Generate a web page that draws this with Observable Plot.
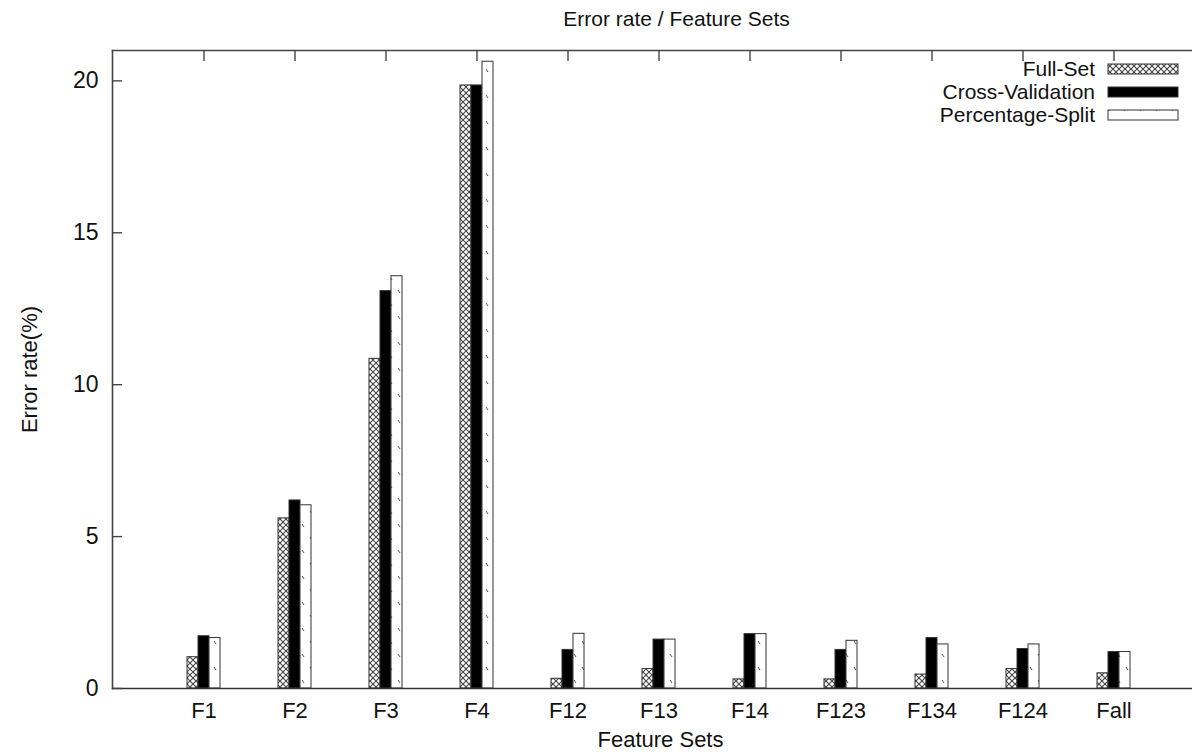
<!DOCTYPE html>
<html>
<head>
<meta charset="utf-8">
<script src="https://cdn.jsdelivr.net/npm/d3@7"></script>
<script src="https://cdn.jsdelivr.net/npm/@observablehq/plot@0.6"></script>
<style>
  body { margin: 0; background: #fff; }
  #chart svg { display: block; }
</style>
</head>
<body>
<div id="chart"></div>
<script>
const categories = ["F1", "F2", "F3", "F4", "F12", "F13", "F14", "F123", "F134", "F124", "Fall"];
const fullSet = [1.03, 5.6, 10.85, 19.85, 0.32, 0.64, 0.30, 0.30, 0.46, 0.64, 0.50];
const crossValidation = [1.72, 6.19, 13.08, 19.85, 1.27, 1.61, 1.79, 1.27, 1.66, 1.30, 1.20];
const percentageSplit = [1.66, 6.03, 13.57, 20.63, 1.80, 1.61, 1.79, 1.57, 1.45, 1.45, 1.20];
const seriesNames = ["Full-Set", "Cross-Validation", "Percentage-Split"];
const yTicks = [0, 5, 10, 15, 20];

const table = categories.map((c, i) => ({cat: c, fs: fullSet[i], cv: crossValidation[i], ps: percentageSplit[i]}));

const FONT = "'Liberation Sans', Arial, Helvetica, sans-serif";
const fills = ["url(#crosshatch)", "#000", "url(#dashes)"];
const keys = ["fs", "cv", "ps"];
const offsets = [-11, 0, 11];

const svg = Plot.plot({
  width: 1192,
  height: 752,
  marginLeft: 112,
  marginRight: 0,
  marginTop: 50,
  marginBottom: 64,
  style: {fontFamily: FONT, fontSize: "23px", color: "#111", background: "#fff"},
  x: {type: "band", domain: categories, range: [157.5, 1158.5], padding: 0},
  y: {domain: [0, 21]},
  marks: [
    ...keys.map((k, j) => Plot.barY(table, {
      x: "cat", y: k, dx: offsets[j], insetLeft: 40, insetRight: 40,
      fill: fills[j], stroke: "#333", strokeWidth: 1
    })),
    Plot.frame({anchor: "left", stroke: "#444", strokeWidth: 1.6}),
    Plot.frame({anchor: "top", stroke: "#444", strokeWidth: 1.6}),
    Plot.frame({anchor: "bottom", stroke: "#333", strokeWidth: 1.6}),
    Plot.axisY({ticks: yTicks, tickSize: -10, text: null, label: null, stroke: "#444", strokeWidth: 1.4}),
    Plot.axisY({ticks: yTicks, tickSize: 0, tickPadding: 14, fontSize: 23, label: null}),
    Plot.axisX({anchor: "top", tickSize: -10, text: null, label: null, stroke: "#444", strokeWidth: 1.4}),
    Plot.axisX({anchor: "bottom", tickSize: 0, tickPadding: 14, fontSize: 22, label: null}),
    Plot.text(["Error rate / Feature Sets"], {frameAnchor: "top", dx: 24, dy: -31, lineAnchor: "middle", fontSize: 21, fill: "#111"}),
    Plot.text(["Feature Sets"], {frameAnchor: "bottom", dx: 8, dy: 51, lineAnchor: "middle", fontSize: 22, fill: "#111"}),
    Plot.text(["Error rate(%)"], {frameAnchor: "left", dx: -83, rotate: -90, textAnchor: "middle", lineAnchor: "middle", fontSize: 22, fill: "#111"})
  ]
});

// Patterns
const s = d3.select(svg);
const defs = s.insert("defs", ":first-child");
const p1 = defs.append("pattern").attr("id", "crosshatch").attr("patternUnits", "userSpaceOnUse")
  .attr("width", 6).attr("height", 6);
p1.append("rect").attr("width", 6).attr("height", 6).attr("fill", "#fff");
p1.append("path").attr("d", "M0,0L6,6M6,0L0,6").attr("stroke", "#444").attr("stroke-width", 1.1).attr("fill", "none");
const p2 = defs.append("pattern").attr("id", "dashes").attr("patternUnits", "userSpaceOnUse")
  .attr("width", 16).attr("height", 26);
p2.append("rect").attr("width", 16).attr("height", 26).attr("fill", "#fff");
p2.append("path").attr("d", "M3,4L5,7M11,17L13,20").attr("stroke", "#555").attr("stroke-width", 1).attr("fill", "none");

// Legend
const lg = s.append("g").attr("font-family", FONT).attr("font-size", 21).attr("fill", "#111");
seriesNames.forEach((name, j) => {
  const cy = 69 + j * 23;
  lg.append("text").attr("x", 1095).attr("y", cy).attr("dy", "0.35em").attr("text-anchor", "end").text(name);
  lg.append("rect").attr("x", 1108).attr("y", cy - 5).attr("width", 70).attr("height", 10)
    .attr("fill", fills[j]).attr("stroke", "#333").attr("stroke-width", 1);
});

document.getElementById("chart").appendChild(svg);
</script>
</body>
</html>
